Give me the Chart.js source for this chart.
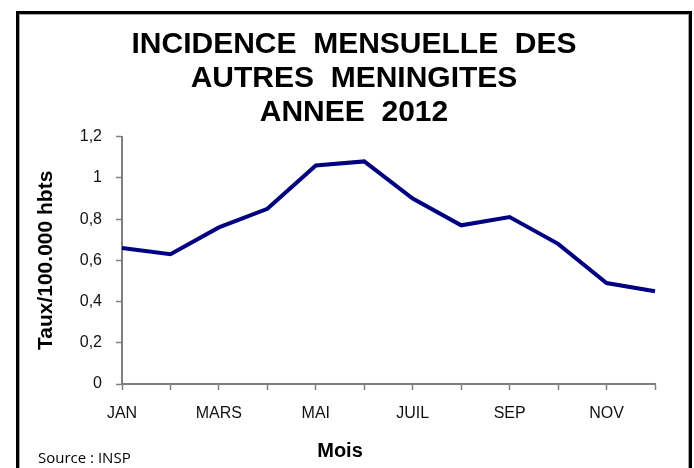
<!DOCTYPE html>
<html>
<head>
<meta charset="utf-8">
<script src="https://cdn.jsdelivr.net/npm/chart.js@4.4.1/dist/chart.umd.min.js"></script>
<style>
  html, body { margin: 0; padding: 0; background: #fff; overflow: hidden; }
  #frame { position: absolute; left: 16px; top: 11px; width: 676px; height: 520px; box-sizing: border-box;
           border: 3px solid #000; box-shadow: inset 0 0 0 1px #a6a6a6; }
  #c { position: absolute; left: 0; top: 0; }
</style>
</head>
<body>
<div id="frame"></div>
<canvas id="c" width="694" height="468"></canvas>
<script>
const months = ['JAN','FEV','MARS','AVRIL','MAI','JUIN','JUIL','AOUT','SEP','OCT','NOV','DEC'];
const incidence = [0.66, 0.63, 0.76, 0.85, 1.06, 1.08, 0.90, 0.77, 0.81, 0.68, 0.49, 0.45];
const titleLines = ['INCIDENCE  MENSUELLE  DES', 'AUTRES  MENINGITES', 'ANNEE  2012'];
const yAxisTitle = 'Taux/100.000 hbts';
const xAxisTitle = 'Mois';
const sourceText = 'Source : INSP';

const AXIS = '#7f7f7f';
const FONT = 'Liberation Sans, Arial, sans-serif';

const textPlugin = {
  id: 'extraText',
  afterDraw(chart) {
    const ctx = chart.ctx;
    ctx.save();
    ctx.fillStyle = '#000';
    ctx.textBaseline = 'middle';
    ctx.textAlign = 'center';
    ctx.font = 'bold 20px ' + FONT;
    ctx.fillText(xAxisTitle, 340, 451);
    ctx.textAlign = 'left';
    ctx.font = '15px "Open Sans", sans-serif';
    ctx.fillText(sourceText, 38, 459);
    ctx.restore();
  }
};

new Chart(document.getElementById('c'), {
  type: 'line',
  data: {
    labels: months,
    datasets: [{
      data: incidence,
      borderColor: '#000080',
      borderWidth: 4,
      pointRadius: 0,
      tension: 0,
      fill: false,
      yAxisID: 'y'
    }]
  },
  options: {
    responsive: false,
    animation: false,
    layout: { padding: { left: 14, right: 0, top: 0, bottom: 0 } },
    plugins: {
      legend: { display: false },
      tooltip: { enabled: false },
      title: {
        display: true,
        text: titleLines,
        color: '#000',
        font: { family: FONT, size: 30, weight: 'bold', lineHeight: 1.13 },
        padding: { top: 28, bottom: 7 }
      }
    },
    scales: {
      x: {
        type: 'category',
        offset: false,
        grid: { display: true, drawOnChartArea: false, drawTicks: true, tickLength: 6, tickColor: AXIS, tickWidth: 1.5 },
        border: { display: true, color: AXIS, width: 2 },
        ticks: {
          autoSkip: false, maxRotation: 0, minRotation: 0,
          color: '#111', padding: 14,
          font: { family: FONT, size: 16 },
          callback: (v, i) => (i % 2 === 0 ? months[i] : '')
        },
        afterFit: s => { s.height = 84; }
      },
      y: {
        min: 0, max: 1.2,
        grid: { display: true, drawOnChartArea: false, drawTicks: true, tickLength: 6, tickColor: AXIS, tickWidth: 1.5 },
        border: { display: true, color: AXIS, width: 2 },
        ticks: {
          stepSize: 0.2, color: '#111', padding: 14,
          font: { family: FONT, size: 16 },
          callback: v => String(Math.round(v * 10) / 10).replace('.', ',')
        },
        title: {
          display: true, text: yAxisTitle, color: '#000',
          font: { family: FONT, size: 21, weight: 'bold', lineHeight: 1.2 },
          padding: { top: 20, bottom: 0 }
        },
        afterFit: s => { s.width = 108; }
      },
      yRight: {
        position: 'right',
        display: true,
        grid: { display: false },
        border: { display: false },
        ticks: { display: false },
        afterFit: s => { s.width = 39; }
      }
    }
  },
  plugins: [textPlugin]
});
</script>
</body>
</html>
